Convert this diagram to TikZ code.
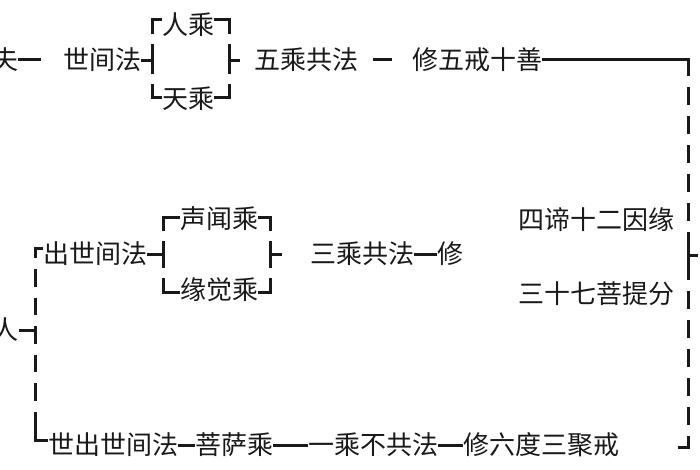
\documentclass[tikz,border=0pt]{standalone}
\usepackage{fontspec}
\setmainfont{Noto Sans CJK SC}
\usetikzlibrary{calc}
\tikzset{
  lbl/.style={inner sep=0pt, outer sep=0pt, font=\fontsize{26}{26}\selectfont, text=black!90, text height=22.5pt, text depth=3.5pt},
  ln/.style={line width=3pt, draw=black!90},
}
\begin{document}
\begin{tikzpicture}[x=1pt,y=-1pt]
\useasboundingbox (0,0) rectangle (700,470);
\fill[white] (0,0) rectangle (700,470);
% ---------- top row ----------
\node[lbl] (fu)  at (5,60)   {夫};
\node[lbl] (sjf) at (102,60) {世间法};
\node[lbl] (rc)  at (188,25) {人乘};
\node[lbl] (tc)  at (188,99) {天乘};
\node[lbl] (wc)  at (306,60) {五乘共法};
\node[lbl] (xw)  at (477,60) {修五戒十善};
\coordinate (A1t) at (152,20);
\coordinate (A1m) at (152,61);
\coordinate (A1b) at (152,98);
\coordinate (B1t) at (229,20);
\coordinate (B1m) at (229,61);
\coordinate (B1b) at (229,98);
\coordinate (B1o) at (240,61);
\draw[ln, shorten >=22pt] (fu.east) -- (sjf.west);
\draw[ln] (sjf.east |- A1m) -- (A1m);
\draw[ln] (A1t -| rc.west) -- (A1t) -- ++(0,14);
\draw[ln] ($(A1t)+(0,24)$) -- ($(A1b)+(0,-24)$);
\draw[ln] (A1b -| tc.west) -- (A1b) -- ++(0,-14);
\draw[ln] (B1t -| rc.east) -- (B1t) -- ++(0,14);
\draw[ln] ($(B1t)+(0,24)$) -- ($(B1b)+(0,-24)$);
\draw[ln] (B1b -| tc.east) -- (B1b) -- ++(0,-14);
\draw[ln] (B1m) -- (B1o);
\draw[ln, shorten <=15pt, shorten >=20pt] (wc.east) -- (xw.west);
% ---------- big right bracket ----------
\coordinate (Rt)  at (688,60);
\coordinate (Rm)  at (688,255);
\coordinate (Rb)  at (688,447);
\coordinate (Ro)  at (698,255);
\coordinate (Rbe) at (678,447);
\draw[ln] (xw.east) -- (Rt) -- ++(0,16);
\draw[ln, dash pattern=on 18.08pt off 11pt] ($(Rt)+(0,27)$) -- ($(Rb)+(0,-22)$);
\draw[ln] ($(Rm)+(0,-8)$) -- ($(Rm)+(0,8)$);
\draw[ln] (Rm) -- (Ro);
\draw[ln] (Rbe) -- (Rb) -- ++(0,-11);
% ---------- middle ----------
\node[lbl] (cs)  at (95,254)  {出世间法};
\node[lbl] (sw)  at (219,219) {声闻乘};
\node[lbl] (yj)  at (219,290) {缘觉乘};
\node[lbl] (sg)  at (362,254) {三乘共法};
\node[lbl] (xiu) at (450,254) {修};
\node[lbl] (sd)  at (596,220) {四谛十二因缘};
\node[lbl] (ss)  at (596,294) {三十七菩提分};
\coordinate (A2t) at (163,217);
\coordinate (A2m) at (163,254);
\coordinate (A2b) at (163,292);
\coordinate (B2t) at (270,217);
\coordinate (B2m) at (270,254);
\coordinate (B2b) at (270,292);
\coordinate (B2o) at (282,254);
\draw[ln] (cs.east) -- (A2m);
\draw[ln] (A2t -| sw.west) -- (A2t) -- ++(0,14);
\draw[ln] ($(A2t)+(0,24)$) -- ($(A2b)+(0,-24)$);
\draw[ln] (A2b -| yj.west) -- (A2b) -- ++(0,-14);
\draw[ln] (B2t -| sw.east) -- (B2t) -- ++(0,14);
\draw[ln] ($(B2t)+(0,24)$) -- ($(B2b)+(0,-24)$);
\draw[ln] (B2b -| yj.east) -- (B2b) -- ++(0,-14);
\draw[ln] (B2m) -- (B2o);
\draw[ln] (sg.east) -- (xiu.west);
% ---------- left big bracket ----------
\node[lbl] (ren) at (6,330) {人};
\coordinate (Lt) at (35,248);
\coordinate (Lm) at (35,330);
\coordinate (Lb) at (35,440);
\draw[ln] (Lt -| cs.west) -- (Lt) -- ++(0,10);
\draw[ln, dash pattern=on 17.5pt off 11pt] ($(Lt)+(0,21)$) -- ($(Lb)+(0,-11)$);
\draw[ln] (ren.east) -- (Lm);
% ---------- bottom row ----------
\node[lbl] (b1) at (113,445) {世出世间法};
\node[lbl] (b2) at (234,445) {菩萨乘};
\node[lbl] (b3) at (373,445) {一乘不共法};
\node[lbl] (b4) at (541,445) {修六度三聚戒};
\draw[ln] (Lb -| b1.west) -- (Lb) -- ++(0,-11);
\draw[ln] (b1.east) -- (b2.west);
\draw[ln] (b2.east) -- (b3.west);
\draw[ln] (b3.east) -- (b4.west);
\end{tikzpicture}
\end{document}
